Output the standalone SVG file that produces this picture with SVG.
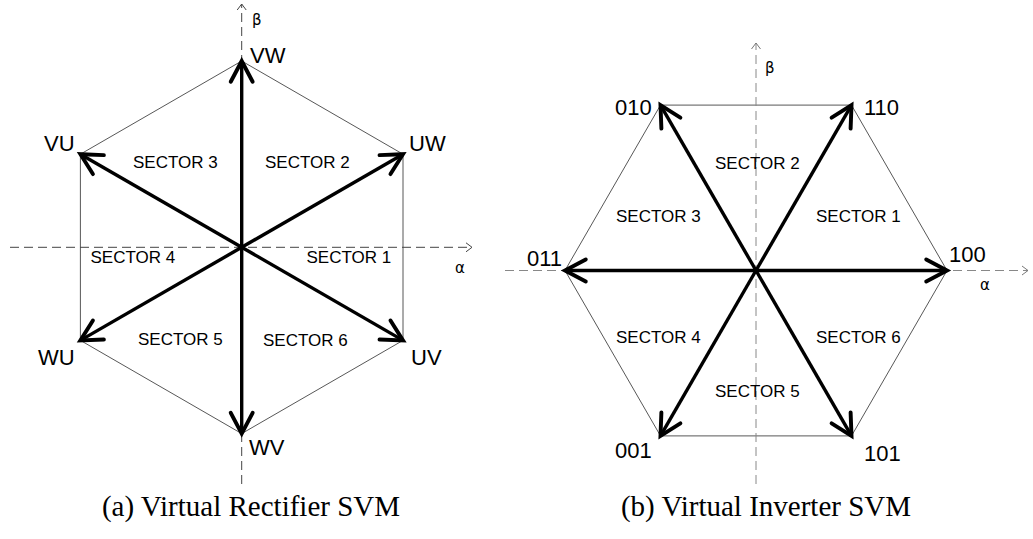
<svg xmlns="http://www.w3.org/2000/svg" width="1033" height="539" viewBox="0 0 1033 539">
<style>
.hex{fill:none;stroke:#444;stroke-width:0.9}
.axisL{fill:none;stroke:#444;stroke-width:1;stroke-dasharray:9 5}
.axisR{fill:none;stroke:#888;stroke-width:1;stroke-dasharray:9 5}
.vec{fill:none;stroke:#000;stroke-width:3.4;marker-end:url(#ah)}
.lbl{font-family:"Liberation Sans",Arial,sans-serif;font-size:22px;fill:#000}
.sec{font-family:"Liberation Sans",Arial,sans-serif;font-size:17px;fill:#000}
.greek{font-family:"DejaVu Sans","Liberation Sans",sans-serif;font-size:15px;fill:#000}
.cap{font-family:"Liberation Serif","Times New Roman",serif;font-size:29px;fill:#000}
</style>
<defs>
<marker id="ah" markerUnits="userSpaceOnUse" markerWidth="30" markerHeight="30" viewBox="-22 -12 26 24" refX="0" refY="0" orient="auto">
<path d="M-18,-9.5 L0,0 L-18,9.5" fill="none" stroke="#000" stroke-width="3.4" stroke-linejoin="miter" stroke-linecap="round"/>
</marker>
<marker id="axL" markerUnits="userSpaceOnUse" markerWidth="12" markerHeight="12" viewBox="-8 -6 10 12" refX="0" refY="0" orient="auto">
<path d="M-6,-4.5 L0,0 L-6,4.5" fill="none" stroke="#444" stroke-width="1"/>
</marker>
<marker id="axR" markerUnits="userSpaceOnUse" markerWidth="12" markerHeight="12" viewBox="-8 -6 10 12" refX="0" refY="0" orient="auto">
<path d="M-6,-4.5 L0,0 L-6,4.5" fill="none" stroke="#777" stroke-width="1"/>
</marker>
</defs>
<rect width="1033" height="539" fill="#fff"/>

<!-- (a) Virtual Rectifier -->
<g id="rectifier-hexagon">
<polygon class="hex" points="241.7,61 403,154.2 403,340.4 241.7,433.6 80.4,340.4 80.4,154.2"/>
</g>
<g id="rectifier-axes">
<line class="axisL" x1="10" y1="247.3" x2="472" y2="247.3" marker-end="url(#axL)"/>
<line class="axisL" x1="241.7" y1="484" x2="241.7" y2="4" marker-end="url(#axL)"/>
<text class="greek" x="455" y="273">α</text>
<text class="greek" x="252" y="25">β</text>
</g>
<g id="rectifier-connectors">
<line class="vec" x1="241.7" y1="247.3" x2="241.7" y2="61"/>
<line class="vec" x1="241.7" y1="247.3" x2="403" y2="154.2"/>
<line class="vec" x1="241.7" y1="247.3" x2="403" y2="340.4"/>
<line class="vec" x1="241.7" y1="247.3" x2="241.7" y2="433.6"/>
<line class="vec" x1="241.7" y1="247.3" x2="80.4" y2="340.4"/>
<line class="vec" x1="241.7" y1="247.3" x2="80.4" y2="154.2"/>
</g>
<g id="node-VW"><text class="lbl" x="250" y="63">VW</text></g>
<g id="node-UW"><text class="lbl" x="409" y="151">UW</text></g>
<g id="node-VU"><text class="lbl" x="44" y="151">VU</text></g>
<g id="node-WU"><text class="lbl" x="38" y="365">WU</text></g>
<g id="node-UV"><text class="lbl" x="411" y="365">UV</text></g>
<g id="node-WV"><text class="lbl" x="249" y="455">WV</text></g>
<g id="rectifier-sectors">
<text class="sec" x="133" y="168">SECTOR 3</text>
<text class="sec" x="265" y="168">SECTOR 2</text>
<text class="sec" x="90.5" y="262.5">SECTOR 4</text>
<text class="sec" x="306.5" y="263">SECTOR 1</text>
<text class="sec" x="138" y="345">SECTOR 5</text>
<text class="sec" x="263" y="346">SECTOR 6</text>
</g>

<!-- (b) Virtual Inverter -->
<g id="inverter-hexagon">
<polygon class="hex" points="947,270.5 851.5,105.1 660.5,105.1 565,270.5 660.5,435.9 851.5,435.9"/>
</g>
<g id="inverter-axes">
<line class="axisR" x1="505" y1="270.5" x2="1028" y2="270.5" marker-end="url(#axR)"/>
<line class="axisR" x1="756" y1="484" x2="756" y2="43" marker-end="url(#axR)"/>
<text class="greek" x="980" y="290">α</text>
<text class="greek" x="765" y="73">β</text>
</g>
<g id="inverter-connectors">
<line class="vec" x1="756" y1="270.5" x2="947" y2="270.5"/>
<line class="vec" x1="756" y1="270.5" x2="851.5" y2="105.1"/>
<line class="vec" x1="756" y1="270.5" x2="660.5" y2="105.1"/>
<line class="vec" x1="756" y1="270.5" x2="565" y2="270.5"/>
<line class="vec" x1="756" y1="270.5" x2="660.5" y2="435.9"/>
<line class="vec" x1="756" y1="270.5" x2="851.5" y2="435.9"/>
</g>
<g id="node-100"><text class="lbl" x="949" y="262">100</text></g>
<g id="node-110"><text class="lbl" x="864" y="115">110</text></g>
<g id="node-010"><text class="lbl" x="615" y="115">010</text></g>
<g id="node-011"><text class="lbl" x="527" y="266">011</text></g>
<g id="node-001"><text class="lbl" x="615" y="458">001</text></g>
<g id="node-101"><text class="lbl" x="864" y="461">101</text></g>
<g id="inverter-sectors">
<text class="sec" x="715" y="169">SECTOR 2</text>
<text class="sec" x="616" y="222">SECTOR 3</text>
<text class="sec" x="816" y="222">SECTOR 1</text>
<text class="sec" x="616" y="343">SECTOR 4</text>
<text class="sec" x="816" y="343">SECTOR 6</text>
<text class="sec" x="715" y="397">SECTOR 5</text>
</g>

<g id="captions">
<text class="cap" x="251" y="516" text-anchor="middle">(a) Virtual Rectifier SVM</text>
<text class="cap" x="766" y="516" text-anchor="middle">(b) Virtual Inverter SVM</text>
</g>
</svg>
